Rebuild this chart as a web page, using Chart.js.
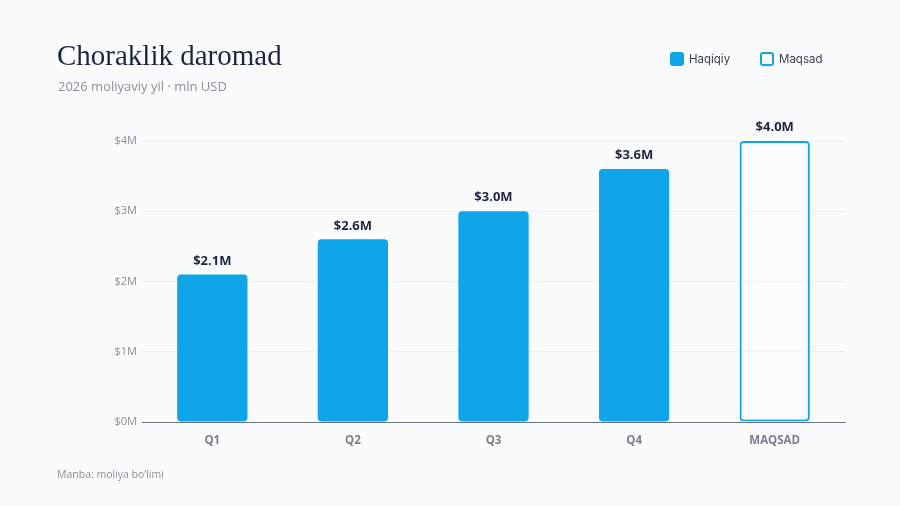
<!DOCTYPE html>
<html>
<head>
<meta charset="utf-8">
<script src="https://cdn.jsdelivr.net/npm/chart.js@4"></script>
<style>
  html, body { margin: 0; padding: 0; background: #fafbfd; }
  #wrap { position: relative; width: 900px; height: 506px; overflow: hidden; }
  #chart { position: absolute; left: 0; top: 0; }
  .title { position: absolute; left: 57px; top: 39px; font-family: "Liberation Serif", "DejaVu Serif", serif; font-size: 29px; color: #1c2640; }
  .sub { position: absolute; left: 58px; top: 77px; font-family: "Open Sans", sans-serif; font-size: 13px; color: #8a8f9c; }
  .foot { position: absolute; left: 57px; top: 467px; font-family: "Open Sans", sans-serif; font-size: 10.5px; color: #8a8f9c; }
  .legend { position: absolute; top: 52px; font-family: "Inter", sans-serif; font-size: 11.5px; color: #3a4150; display: flex; align-items: center; }
  .legend span.box { width: 14px; height: 14px; border-radius: 3px; box-sizing: border-box; margin-right: 5px; }
</style>
</head>
<body>
<div id="wrap">
  <canvas id="chart" width="900" height="506"></canvas>
  <div class="title">Choraklik daromad</div>
  <div class="sub">2026 moliyaviy yil · mln USD</div>
  <div class="legend" style="left:670px"><span class="box" style="background:#0ea5e9"></span>Haqiqiy</div>
  <div class="legend" style="left:760px"><span class="box" style="border:2px solid #0ea5e9;background:#fff"></span>Maqsad</div>
  <div class="foot">Manba: moliya bo‘limi</div>
</div>
<script>
const labels = ['Q1', 'Q2', 'Q3', 'Q4', 'MAQSAD'];
const actual = [2.1, 2.6, 3.0, 3.6, null];
const target = [null, null, null, null, 4.0];
const yTicks = [0, 1, 2, 3, 4];

const valueLabels = {
    id: 'valueLabels',
    afterDatasetsDraw(chart) {
        const ctx = chart.ctx;
        ctx.save();
        ctx.font = 'bold 13px "Open Sans", sans-serif';
        ctx.fillStyle = '#1c2640';
        ctx.textAlign = 'center';
        ctx.textBaseline = 'bottom';
        chart.data.datasets.forEach((ds, i) => {
            chart.getDatasetMeta(i).data.forEach((bar, j) => {
                const v = ds.data[j];
                if (v == null) return;
                ctx.fillText('$' + v.toFixed(1) + 'M', bar.x, bar.y - 7);
            });
        });
        ctx.restore();
    }
};

const data = {
    labels: labels,
    datasets: [{
        label: 'Haqiqiy',
        data: actual,
        backgroundColor: '#0ea5e9',
        borderRadius: 4,
        borderSkipped: false,
        grouped: false,
        categoryPercentage: 1,
        barPercentage: 0.5
    }, {
        label: 'Maqsad',
        data: target,
        backgroundColor: 'rgba(255,255,255,0.3)',
        borderColor: '#0ea5e9',
        borderWidth: 2,
        borderRadius: 4,
        borderSkipped: false,
        grouped: false,
        categoryPercentage: 1,
        barPercentage: 0.5
    }]
};

const config = {
    type: 'bar',
    data: data,
    plugins: [valueLabels],
    options: {
        responsive: false,
        animation: false,
        layout: { padding: { left: 92, right: 55, top: 141, bottom: 54 } },
        plugins: {
            legend: { display: false },
            tooltip: { enabled: false }
        },
        scales: {
            x: {
                grid: { display: false },
                border: { display: true, color: '#6b7080', width: 1 },
                ticks: {
                    color: '#7a7f8c',
                    font: { family: '"Open Sans", sans-serif', size: 11.5, weight: 'bold' },
                    padding: 4
                },
                afterFit(scale) { scale.height = 30; }
            },
            y: {
                min: 0,
                max: 4,
                afterBuildTicks(scale) { scale.ticks = yTicks.map(v => ({ value: v })); },
                grid: { color: '#eceef2', drawTicks: false },
                border: { display: false },
                ticks: {
                    color: '#8a8f9c',
                    font: { family: '"Open Sans", sans-serif', size: 11 },
                    padding: 5,
                    callback: v => '$' + v + 'M'
                },
                afterFit(scale) { scale.width = 50; }
            }
        }
    }
};

new Chart(document.getElementById('chart'), config);
</script>
</body>
</html>
